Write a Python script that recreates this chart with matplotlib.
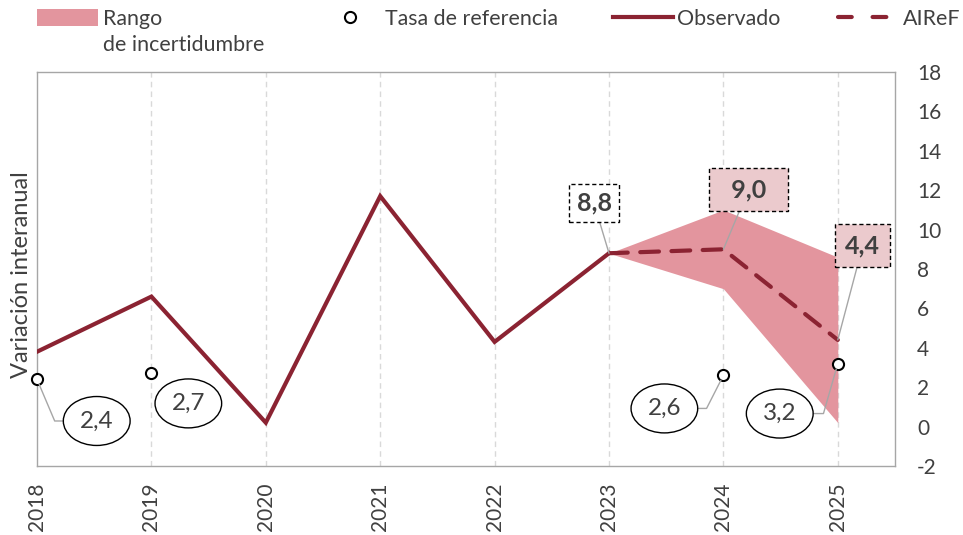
import numpy as np
import matplotlib.pyplot as plt
from matplotlib.patches import Patch
from matplotlib.lines import Line2D

plt.rcParams['font.family'] = ['Lato', 'DejaVu Sans']
plt.rcParams['axes.unicode_minus'] = False

# Data
years = ['2018', '2019', '2020', '2021', '2022', '2023', '2024', '2025']
observado = [3.8, 6.6, 0.2, 11.7, 4.3, 8.8]
airef = [8.8, 9.0, 4.4]
banda_sup = [8.8, 11.0, 8.6]
banda_inf = [8.8, 7.0, 0.2]
tasa_ref = [2.4, 2.7, 2.6, 3.2]
tasa_years = ['2018', '2019', '2024', '2025']

# Colours
rojo = '#8B2332'
rosa = '#E3959E'
rosa_claro = '#EBCACD'
gris = '#A6A6A6'
texto = '#404040'

x_all = np.arange(len(years))
x_obs = x_all[:len(observado)]
x_prev = x_all[len(observado) - 1:]
x_tasa = [years.index(y) for y in tasa_years]

fig = plt.figure(figsize=(9.63, 5.35), dpi=100)
ax = fig.add_axes([37 / 963, 69 / 535, 858 / 963, 394 / 535])

ax.fill_between(x_prev, banda_inf, banda_sup, color=rosa, linewidth=0, zorder=1)
ax.plot(x_obs, observado, color=rojo, lw=3, solid_joinstyle='miter', zorder=3)
ax.plot(x_prev, airef, color=rojo, lw=3, dashes=(4.5, 3), dash_capstyle='round', zorder=3)
ax.plot(x_tasa, tasa_ref, 'o', mfc='white', mec='black', mew=1.5, ms=8, zorder=5, clip_on=False)

ax.set_xlim(0, 7.5)
ax.set_ylim(-2, 18)
ax.set_yticks(np.arange(-2, 19, 2))
ax.set_xticks(x_all)
ax.set_xticklabels(years, rotation=90)
ax.yaxis.tick_right()
ax.tick_params(axis='y', length=0, pad=16, labelsize=15, labelcolor=texto)
ax.tick_params(axis='x', length=0, pad=12, labelsize=15, labelcolor=texto)
for s in ax.spines.values():
    s.set_color(gris)
    s.set_linewidth(1)
for xi in x_all[1:]:
    ax.axvline(xi, color='#D9D9D9', lw=1, ls=(0, (4, 3)), zorder=0)

# Ellipse labels for the reference rate
ell = dict(boxstyle='ellipse,pad=0.28', fc='white', ec='black', lw=1)
lead = dict(arrowstyle='-', color=gris, lw=1, shrinkA=0, shrinkB=4)
ell_offsets = [(43, -30), (26.6, -21.6), (-42.5, -23.8), (-41.8, -36)]
ell_conn = ['angle,angleA=0,angleB=-67,rad=0', None,
            'angle,angleA=0,angleB=63,rad=0', 'angle,angleA=0,angleB=74,rad=0']
for xi, v, off, conn in zip(x_tasa, tasa_ref, ell_offsets, ell_conn):
    lbl = f'{v:.1f}'.replace('.', ',')
    ap = None
    if conn is not None:
        ap = dict(lead, connectionstyle=conn)
    ax.annotate(lbl, (xi, v), xytext=off, textcoords='offset points',
                ha='center', va='center', fontsize=17.5, color=texto,
                bbox=ell, arrowprops=ap, zorder=6)

# Dashed boxes for the forecast values
box_lbls = [f'{v:.1f}'.replace('.', ',') for v in airef]
box_lbls[1] = '  ' + box_lbls[1] + '  '
box_offsets = [(-10.8, 36), (18, 43), (18, 68)]
box_fc = ['white', rosa_claro, rosa_claro]
box_pad = [0.3, 0.4, 0.4]
for xi, v, lbl, off, fc, pad in zip(x_prev, airef, box_lbls, box_offsets, box_fc, box_pad):
    ax.annotate(lbl, (xi, v), xytext=off, textcoords='offset points',
                ha='center', va='center', fontsize=18, fontweight='bold', color=texto,
                bbox=dict(boxstyle=f'square,pad={pad}', fc=fc, ec='black', lw=1, ls=(0, (3, 2))),
                arrowprops=dict(arrowstyle='-', color=gris, lw=1, shrinkA=0, shrinkB=0),
                zorder=6)

fig.text(22 / 963, 0.486, 'Variación interanual', rotation=90, ha='center', va='center',
         fontsize=17, color=texto)

# Legend, one block per entry
leg_fs = 15.4
leg_top = 1 - 9 / 535
legend_items = [
    (Patch(fc=rosa, ec='none'), 'Rango', 37, 2.85, 0.23),
    (Line2D([], [], ls='none', marker='o', mfc='white', mec='black', mew=1.5, ms=8),
     'Tasa de referencia', 339, 1.0, 1.17),
    (Line2D([], [], color=rojo, lw=3), 'Observado', 613, 2.8, 0.2),
    (Line2D([], [], color=rojo, lw=3, dashes=(3.3, 5), dash_capstyle='round'),
     'AIReF', 838, 2.57, 0.47),
]
for h, lbl, x0, hl, tp in legend_items:
    fig.legend([h], [lbl], loc='upper left', bbox_to_anchor=(x0 / 963, leg_top),
               frameon=False, fontsize=leg_fs, labelcolor=texto, handlelength=hl,
               handleheight=0.8, handletextpad=tp, borderpad=0, borderaxespad=0)
fig.text(103 / 963, 1 - 45 / 535, 'de incertidumbre', ha='left', va='center',
         fontsize=leg_fs, color=texto)

plt.savefig('out.png', dpi=100)
